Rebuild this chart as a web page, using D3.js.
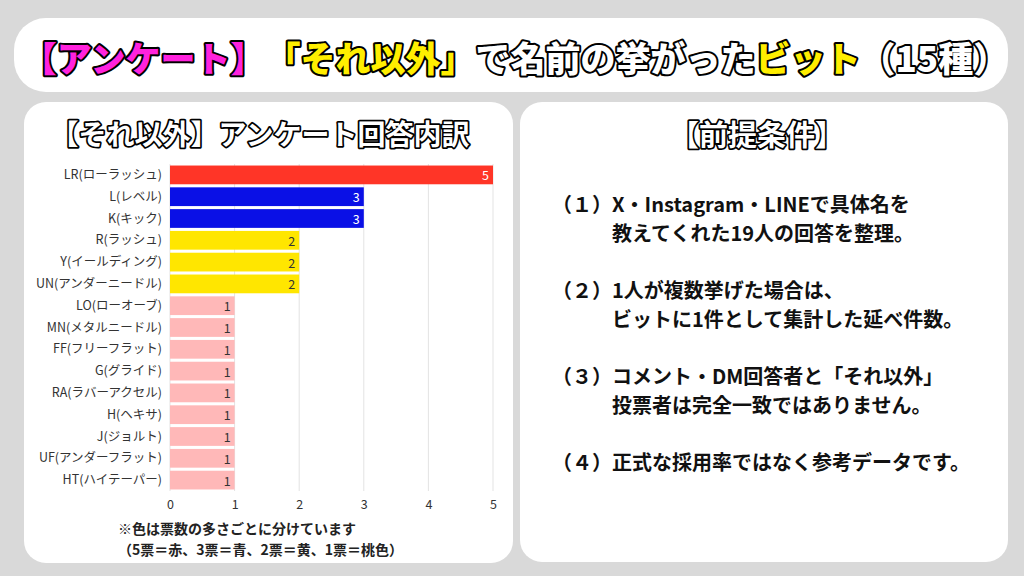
<!DOCTYPE html>
<html>
  <head>
    <meta charset="utf-8">
    <title>それ以外 アンケート</title>
    <script src="https://d3js.org/d3.v7.min.js"></script>
    <style>
      body { margin: 0; background: #d9d9d9; }
      svg text { font-family: "Noto Sans CJK JP", "Noto Sans", sans-serif; text-spacing-trim: space-all; }
      .outlined { paint-order: stroke; stroke: #000; stroke-linejoin: round; }
    </style>
  </head>
  <body>
    <div id="chart"></div>
    <script>
      // survey data
      const categories = [
        "LR(ローラッシュ)", "L(レベル)", "K(キック)", "R(ラッシュ)", "Y(イールディング)",
        "UN(アンダーニードル)", "LO(ローオーブ)", "MN(メタルニードル)", "FF(フリーフラット)",
        "G(グライド)", "RA(ラバーアクセル)", "H(ヘキサ)", "J(ジョルト)", "UF(アンダーフラット)",
        "HT(ハイテーパー)"
      ];
      const votes = [5, 3, 3, 2, 2, 2, 1, 1, 1, 1, 1, 1, 1, 1, 1];
      const xTicks = [0, 1, 2, 3, 4, 5];
      const voteLevels = [5, 3, 2, 1];
      const voteColors = ["#ff3527", "#0a10e6", "#ffe600", "#ffb8b8"];
      const labelColors = ["#ffffff", "#ffffff", "#333333", "#333333"];

      const titleParts = [
        { text: "【アンケート】", fill: "#ff22dd" },
        { text: "「それ以外」", fill: "#ffee00" },
        { text: "で名前の挙がった", fill: "#ffffff" },
        { text: "ビット", fill: "#ffee00" },
        { text: "（15種）", fill: "#ffffff" }
      ];
      const noteLines = ["※色は票数の多さごとに分けています", "（5票＝赤、3票＝青、2票＝黄、1票＝桃色）"];
      const conditions = [
        ["（１）", "X・Instagram・LINEで具体名を", "教えてくれた19人の回答を整理。"],
        ["（２）", "1人が複数挙げた場合は、", "ビットに1件として集計した延べ件数。"],
        ["（３）", "コメント・DM回答者と「それ以外」", "投票者は完全一致ではありません。"],
        ["（４）", "正式な採用率ではなく参考データです。"]
      ];

      const W = 1024, H = 576;
      const svg = d3.select("#chart").append("svg").attr("width", W).attr("height", H);

      // panels
      svg.append("rect").attr("x", 14).attr("y", 18).attr("width", 994).attr("height", 74)
        .attr("rx", 32).attr("fill", "#fff");
      svg.append("rect").attr("x", 24).attr("y", 102).attr("width", 489).attr("height", 461)
        .attr("rx", 22).attr("fill", "#fff");
      svg.append("rect").attr("x", 520).attr("y", 102).attr("width", 488).attr("height", 460)
        .attr("rx", 22).attr("fill", "#fff");

      // main title
      const title = svg.append("text")
        .attr("class", "outlined")
        .attr("x", 515).attr("y", 56)
        .attr("text-anchor", "middle")
        .attr("dominant-baseline", "central")
        .attr("font-size", 35).attr("font-weight", 900)
        .attr("stroke-width", 4);
      title.selectAll("tspan").data(titleParts).join("tspan")
        .attr("fill", (d) => d.fill)
        .text((d) => d.text);

      // panel titles
      svg.append("text").attr("class", "outlined")
        .attr("x", 260).attr("y", 133)
        .attr("text-anchor", "middle").attr("dominant-baseline", "central")
        .attr("font-size", 28).attr("font-weight", 700)
        .attr("fill", "#fff").attr("stroke-width", 3.5)
        .text("【それ以外】アンケート回答内訳");

      svg.append("text").attr("class", "outlined")
        .attr("x", 757).attr("y", 133)
        .attr("text-anchor", "middle").attr("dominant-baseline", "central")
        .attr("font-size", 29).attr("font-weight", 700)
        .attr("fill", "#fff").attr("stroke-width", 3.5)
        .text("【前提条件】");

      // scales
      const x = d3.scaleLinear().domain([0, 5]).range([170, 493]);
      const y = d3.scaleBand().domain(categories).range([164, 491]).paddingInner(0.14).paddingOuter(0.07);
      const color = d3.scaleOrdinal().domain(voteLevels).range(voteColors);
      const labelColor = d3.scaleOrdinal().domain(voteLevels).range(labelColors);

      // gridlines
      svg.append("g").selectAll("line").data(xTicks).join("line")
        .attr("x1", (d) => x(d)).attr("x2", (d) => x(d))
        .attr("y1", 164).attr("y2", 491)
        .attr("stroke", "#e3e3e3").attr("stroke-width", 1);

      const rows = categories.map((c, i) => ({ name: c, value: votes[i] }));

      // bars
      svg.append("g").selectAll("rect").data(rows).join("rect")
        .attr("x", x(0))
        .attr("y", (d) => y(d.name))
        .attr("width", (d) => x(d.value) - x(0))
        .attr("height", y.bandwidth())
        .attr("fill", (d) => color(d.value));

      // value labels
      svg.append("g").selectAll("text").data(rows).join("text")
        .attr("x", (d) => x(d.value) - 4)
        .attr("y", (d) => y(d.name) + y.bandwidth() / 2)
        .attr("text-anchor", "end").attr("dominant-baseline", "central")
        .attr("font-size", 12.5)
        .attr("fill", (d) => labelColor(d.value))
        .text((d) => d.value);

      // category axis
      const yAxis = svg.append("g")
        .attr("transform", `translate(${x(0)},0)`)
        .call(d3.axisLeft(y).tickSize(0).tickPadding(8));
      yAxis.select(".domain").remove();
      yAxis.selectAll("text").attr("font-size", 12.5).attr("fill", "#333")
        .style("font-family", '"Noto Sans CJK JP", sans-serif');

      // value axis
      const xAxis = svg.append("g")
        .attr("transform", "translate(0,491)")
        .call(d3.axisBottom(x).tickValues(xTicks).tickSize(0).tickPadding(9).tickFormat(d3.format("d")));
      xAxis.select(".domain").remove();
      xAxis.selectAll("text").attr("font-size", 12.5).attr("fill", "#333")
        .style("font-family", '"Noto Sans CJK JP", sans-serif');

      // colour note
      svg.append("g").selectAll("text").data(noteLines).join("text")
        .attr("x", 118)
        .attr("y", (d, i) => 528 + i * 21)
        .attr("dominant-baseline", "central")
        .attr("font-size", 14).attr("font-weight", 700).attr("fill", "#222")
        .text((d) => d);

      // conditions list
      const cond = svg.append("g");
      conditions.forEach((c, i) => {
        const top = 203 + i * 86;
        cond.append("text")
          .attr("x", 552).attr("y", top)
          .attr("dominant-baseline", "central")
          .attr("font-size", 20).attr("font-weight", 700).attr("fill", "#111")
          .text(c[0] + c[1]);
        if (c[2]) {
          cond.append("text")
            .attr("x", 612).attr("y", top + 29)
            .attr("dominant-baseline", "central")
            .attr("font-size", 20).attr("font-weight", 700).attr("fill", "#111")
            .text(c[2]);
        }
      });
    </script>
  </body>
</html>
